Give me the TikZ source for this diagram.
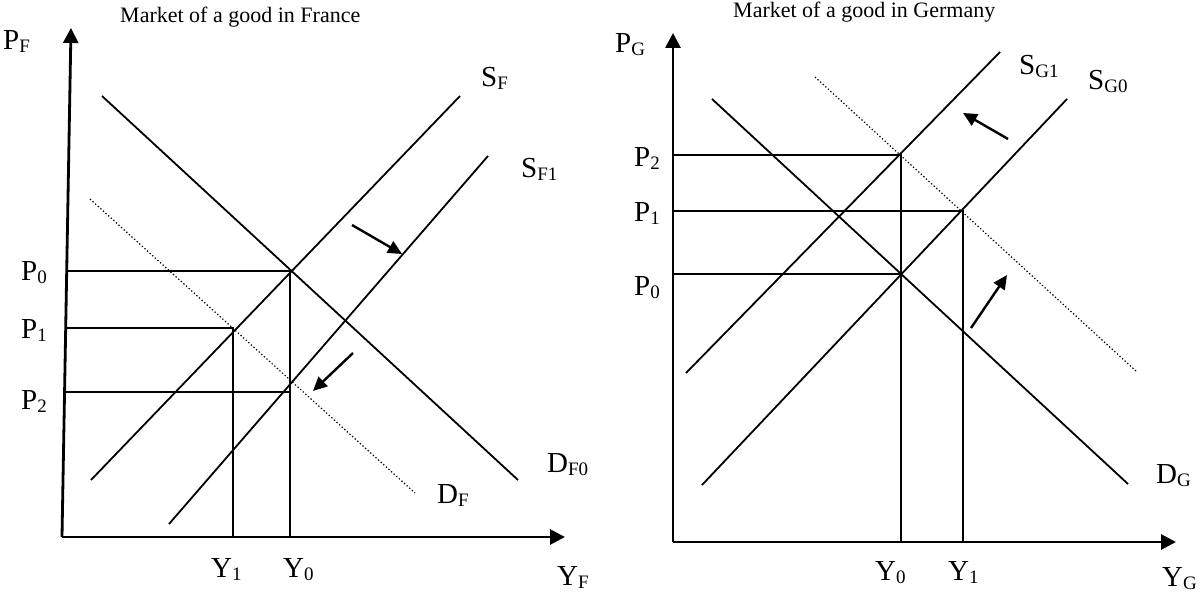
\documentclass[tikz,border=0pt]{standalone}
\usepackage{fontspec}
\setmainfont{Liberation Serif}
\usetikzlibrary{arrows.meta}
\newcommand\subl[1]{\raisebox{-3pt}{\fontsize{19}{19}\selectfont #1}}
\tikzset{
  curve/.style={line width=1.8pt},
  guide/.style={line width=1.8pt},
  dottedcurve/.style={line width=1.2pt, dash pattern=on 1.3pt off 2.2pt},
  axis/.style={line width=2.8pt, -{Triangle[length=15pt,width=15pt]}},
  shiftarrow/.style={line width=2.4pt, -{Triangle[length=14pt,width=13pt]}},
  lbl/.style={anchor=base west, inner sep=0pt, font=\fontsize{29}{30}\selectfont},
  ttl/.style={anchor=base west, inner sep=0pt, font=\fontsize{22}{24}\selectfont},
}
\begin{document}
\begin{tikzpicture}[x=1pt,y=-1pt]
\useasboundingbox (0,0) rectangle (1204,596);
% ---------------- France ----------------
\coordinate (OF) at (62,537);
\coordinate (FyTop) at (71,28);
\coordinate (FxTip) at (565,537);
\coordinate (SFa) at (91,480);   \coordinate (SFb) at (460,96);
\coordinate (SF1a) at (169,524); \coordinate (SF1b) at (488,156);
\coordinate (DF0a) at (102,96);  \coordinate (DF0b) at (518,480);
\coordinate (DFa) at (90,199);   \coordinate (DFb) at (415,493);
\coordinate (FE0) at (290,271);
\coordinate (FE1) at (233,328);
\coordinate (FE2) at (290,392);
\coordinate (FP0) at (66.7,271);
\coordinate (FP1) at (65.7,328);
\coordinate (FP2) at (64.6,392);
\coordinate (FY0) at (290,537);
\coordinate (FY1) at (233,537);
\coordinate (FA1s) at (352,225); \coordinate (FA1e) at (402,254);
\coordinate (FA2s) at (353,353); \coordinate (FA2e) at (313,391);

\draw[guide] (FP0) -- (FE0) -- (FY0);
\draw[guide] (FP1) -- (FE1) -- (FY1);
\draw[guide] (FP2) -- (FE2);
\draw[curve] (SFa) -- (SFb);
\draw[curve] (SF1a) -- (SF1b);
\draw[curve] (DF0a) -- (DF0b);
\draw[dottedcurve] (DFa) -- (DFb);
\draw[axis] (OF) -- (FyTop);
\draw[axis] (OF) -- (FxTip);
\draw[shiftarrow] (FA1s) -- (FA1e);
\draw[shiftarrow] (FA2s) -- (FA2e);

\node[ttl] (tF) at (120,23) {Market of a good in France};
\node[lbl] (lPF) at (3,50) {P\subl{F}};
\node[lbl] (lFP0) at (21,280) {P\subl{0}};
\node[lbl] (lFP1) at (21,338) {P\subl{1}};
\node[lbl] (lFP2) at (21,409) {P\subl{2}};
\node[lbl] (lFY1) at (211,577) {Y\subl{1}};
\node[lbl] (lFY0) at (283,577) {Y\subl{0}};
\node[lbl] (lYF) at (557,585) {Y\subl{F}};
\node[lbl] (lDF0) at (547,472) {D\subl{F0}};
\node[lbl] (lDF) at (437,503) {D\subl{F}};
\node[lbl] (lSF) at (481,87) {S\subl{F}};
\node[lbl] (lSF1) at (521,178) {S\subl{F1}};

% ---------------- Germany ----------------
\coordinate (OG) at (673,542);
\coordinate (GyTop) at (673,33);
\coordinate (GxTip) at (1176,542);
\coordinate (SG1a) at (686,373); \coordinate (SG1b) at (1000,52);
\coordinate (SG0a) at (702,485); \coordinate (SG0b) at (1067,99);
\coordinate (DGa) at (712,99);   \coordinate (DGb) at (1128,484);
\coordinate (DGda) at (815,77);  \coordinate (DGdb) at (1137,372);
\coordinate (GE2) at (901,155);
\coordinate (GE1) at (963,211);
\coordinate (GE0) at (901,274);
\coordinate (GP2) at (673,155);
\coordinate (GP1) at (673,211);
\coordinate (GP0) at (673,274);
\coordinate (GY0) at (901,542);
\coordinate (GY1) at (963,542);
\coordinate (GA1s) at (1008,139); \coordinate (GA1e) at (963,113);
\coordinate (GA2s) at (971,328);  \coordinate (GA2e) at (1007,275);

\draw[guide] (GP2) -- (GE2) -- (GY0);
\draw[guide] (GP1) -- (GE1) -- (GY1);
\draw[guide] (GP0) -- (GE0);
\draw[curve] (SG1a) -- (SG1b);
\draw[curve] (SG0a) -- (SG0b);
\draw[curve] (DGa) -- (DGb);
\draw[dottedcurve] (DGda) -- (DGdb);
\draw[axis] (OG) -- (GyTop);
\draw[axis] (OG) -- (GxTip);
\draw[shiftarrow] (GA1s) -- (GA1e);
\draw[shiftarrow] (GA2s) -- (GA2e);

\node[ttl] (tG) at (733,18) {Market of a good in Germany};
\node[lbl] (lPG) at (615,53) {P\subl{G}};
\node[lbl] (lGP2) at (634,167) {P\subl{2}};
\node[lbl] (lGP1) at (634,222) {P\subl{1}};
\node[lbl] (lGP0) at (634,295) {P\subl{0}};
\node[lbl] (lGY0) at (875,580) {Y\subl{0}};
\node[lbl] (lGY1) at (948,580) {Y\subl{1}};
\node[lbl] (lYG) at (1162,586) {Y\subl{G}};
\node[lbl] (lDG) at (1156,483) {D\subl{G}};
\node[lbl] (lSG1) at (1019,75) {S\subl{G1}};
\node[lbl] (lSG0) at (1088,90) {S\subl{G0}};
\end{tikzpicture}
\end{document}
